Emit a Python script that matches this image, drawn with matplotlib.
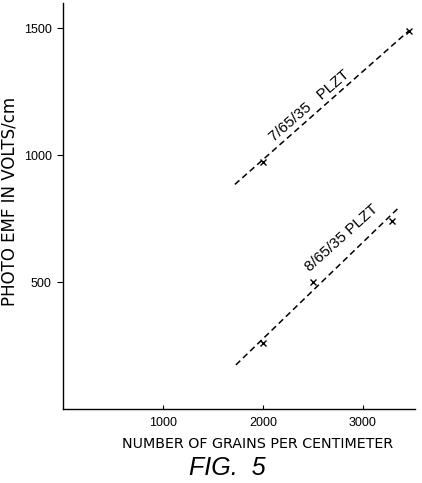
import matplotlib

matplotlib.use("Agg")
import matplotlib.pyplot as plt

plt.rcParams["font.family"] = ["Liberation Sans", "DejaVu Sans"]

# 7/65/35 PLZT: fitted line and measured points
line7_x = [1720, 3460]
line7_y = [885, 1490]
pts7_x = [2000, 3460]
pts7_y = [972, 1490]

# 8/65/35 PLZT
line8_x = [1730, 3350]
line8_y = [174, 790]
pts8_x = [2000, 2500, 3290]
pts8_y = [261, 502, 739]

xticks = [1000, 2000, 3000]
yticks = [500, 1000, 1500]

fig = plt.figure(figsize=(4.22, 4.83), dpi=100)
ax = fig.add_axes([0.149, 0.153, 0.834, 0.841])

dash = dict(color="black", lw=1.1, linestyle=(0, (4, 2.5)))
ax.plot(line7_x, line7_y, **dash)
ax.plot(line8_x, line8_y, **dash)
ax.plot(pts7_x, pts7_y, "x", color="black", ms=4, mew=1)
ax.plot(pts8_x, pts8_y, "x", color="black", ms=4, mew=1)

ax.text(2470, 1195, "7/65/35   PLZT", rotation=41, ha="center", va="center",
        fontsize=11, rotation_mode="anchor")
ax.text(2790, 675, "8/65/35 PLZT", rotation=42, ha="center", va="center",
        fontsize=11, rotation_mode="anchor")

ax.set_xlim(0, 3520)
ax.set_ylim(0, 1600)
ax.set_xticks(xticks)
ax.set_yticks(yticks)
ax.tick_params(axis="x", direction="in", length=3, labelsize=9, pad=6)
ax.tick_params(axis="y", direction="out", length=4, labelsize=9, pad=4)
for s in ("top", "right"):
    ax.spines[s].set_visible(False)
for s in ("left", "bottom"):
    ax.spines[s].set_linewidth(1.0)

ax.set_xlabel("NUMBER OF GRAINS PER CENTIMETER", fontsize=10.3,
              family="DejaVu Sans")
ax.set_ylabel("PHOTO EMF IN VOLTS/cm", fontsize=12, family="DejaVu Sans")
ax.xaxis.set_label_coords(0.553, -0.069)
ax.yaxis.set_label_coords(-0.125, 0.512)

fig.text(0.538, 0.031, "FIG.  5", ha="center", va="center", fontsize=18,
         style="italic")

fig.savefig("out.png", dpi=100)
